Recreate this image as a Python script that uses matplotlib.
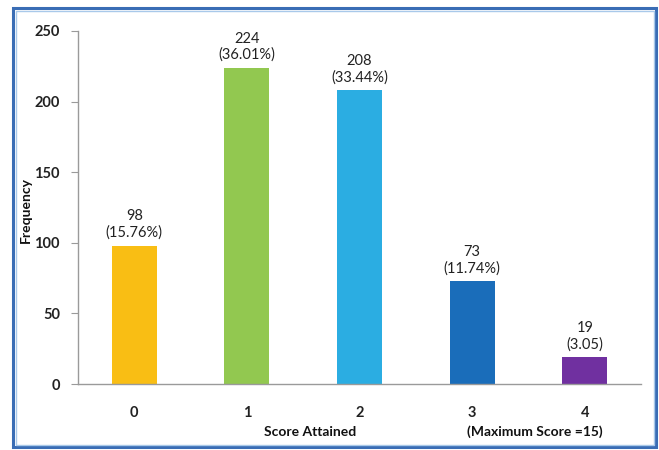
import matplotlib
matplotlib.use("Agg")
import matplotlib.pyplot as plt
from matplotlib.patches import Rectangle

scores = ["0", "1", "2", "3", "4"]
frequency = [98, 224, 208, 73, 19]
percent_labels = ["(15.76%)", "(36.01%)", "(33.44%)", "(11.74%)", "(3.05)"]
bar_colors = ["#F9BE14", "#92C850", "#2BADE2", "#1A6DBA", "#7030A0"]
y_ticks = [0, 50, 100, 150, 200, 250]

plt.rcParams["font.family"] = ["Lato", "DejaVu Sans"]

fig = plt.figure(figsize=(6.59, 4.5), dpi=100)
fig.patch.set_facecolor("white")

# blue frame around the whole chart
fig.patches.append(Rectangle((13 / 659, 3 / 450), 643 / 659, 439 / 450,
                             transform=fig.transFigure, fill=False,
                             edgecolor="#3A6DB5", linewidth=2.2, zorder=0))
fig.patches.append(Rectangle((15.5 / 659, 5 / 450), 638 / 659, 434.5 / 450,
                             transform=fig.transFigure, fill=False,
                             edgecolor="#A9C9EA", linewidth=1.0, zorder=0))

ax = fig.add_axes([78 / 659, 1 - 384 / 450, 563 / 659, 353 / 450])
x = list(range(len(scores)))
bars = ax.bar(x, frequency, width=0.4, color=bar_colors, zorder=2)

for xi, f, p in zip(x, frequency, percent_labels):
    ax.annotate(f"{f}\n{p}", xy=(xi, f), xytext=(0, 4), textcoords="offset points",
                ha="center", va="bottom", fontsize=10.5, color="#222222",
                linespacing=1.2)

ax.set_xlim(-0.5, 4.5)
ax.set_ylim(0, 250)
ax.set_yticks(y_ticks)
ax.set_xticks(x)
ax.set_xticklabels(scores)

for s in ["top", "right"]:
    ax.spines[s].set_visible(False)
for s in ["left", "bottom"]:
    ax.spines[s].set_color("#9A9A9A")
    ax.spines[s].set_linewidth(1.0)

ax.tick_params(axis="y", length=5, color="#9A9A9A", labelsize=10.5,
               labelcolor="#222222", pad=8)
ax.tick_params(axis="x", length=0, labelsize=10.5, labelcolor="#222222", pad=16)
for lab in ax.get_xticklabels() + ax.get_yticklabels():
    lab.set_fontweight("bold")

fig.text(26 / 659, 1 - 210 / 450, "Frequency", rotation=90, ha="center", va="center",
         fontsize=10, fontweight="bold", color="#111111")
fig.text(310 / 659, 1 - 432 / 450, "Score Attained", ha="center", va="center",
         fontsize=10, fontweight="bold", color="#111111")
fig.text(535 / 659, 1 - 432 / 450, "(Maximum Score =15)", ha="center", va="center",
         fontsize=10, fontweight="bold", color="#111111")

fig.savefig("out.png", dpi=100, facecolor="white")
